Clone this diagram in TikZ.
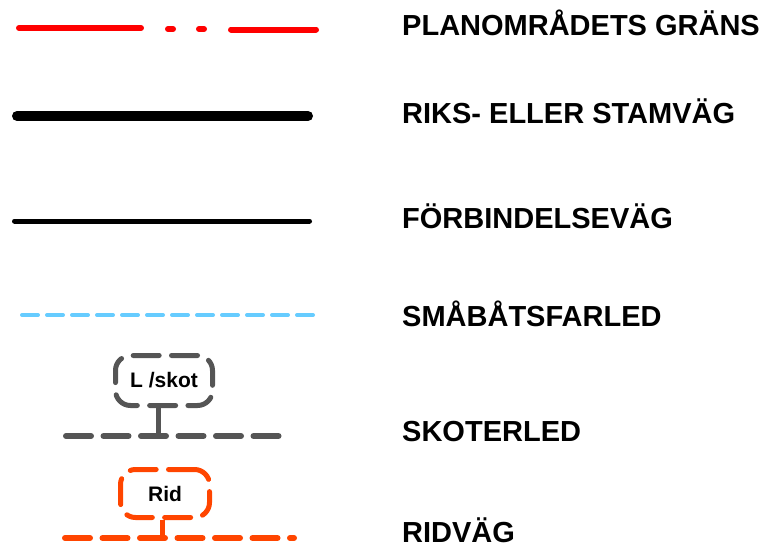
\documentclass[tikz,border=0pt]{standalone}
\usepackage{fontspec}
\setmainfont{Liberation Sans}
\definecolor{planred}{HTML}{FF0000}
\definecolor{boatblue}{HTML}{66CCFF}
\definecolor{skotgrey}{HTML}{555555}
\definecolor{ridorange}{HTML}{FF4500}
\tikzset{
  lbl/.style={anchor=base west, inner sep=0pt, font=\fontsize{29}{33}\selectfont\bfseries},
  boxlbl/.style={font=\fontsize{21}{25}\selectfont\bfseries, rounded corners=15pt, dash pattern=on 26pt off 12.3pt, line width=5pt, line cap=round, inner sep=0pt},
  trail/.style={line width=6pt, line cap=round, dash pattern=on 25pt off 12.5pt},
}
\begin{document}
\begin{tikzpicture}[x=1pt,y=-1pt]
\useasboundingbox (0,0) rectangle (760,554);
% PLANOMRADETS GRANS
\begin{scope}[planred, line width=6pt, line cap=round]
\draw (19,28) -- (141,28);
\draw (168,29) -- (173,29);
\draw (199,29) -- (204,29);
\draw (231,29.5) -- (316,29.5);
\end{scope}
\node[lbl] (t1) at (402,35) {PLANOMRÅDETS GRÄNS};
% RIKS
\draw[line width=10pt, line cap=round] (17,116) -- (308,116);
\node[lbl] (t2) at (402,123.5) {RIKS- ELLER STAMVÄG};
% FORBINDELSE
\draw[line width=5pt, line cap=round] (14.5,221) -- (309.5,221);
\node[lbl] (t3) at (402,228.5) {FÖRBINDELSEVÄG};
% SMABATSFARLED
\draw[boatblue, line width=4pt, line cap=round, dash pattern=on 16pt off 9pt] (22,315) -- (313,315);
\node[lbl] (t4) at (402,326.5) {SMÅBÅTSFARLED};
% SKOTERLED
\node[boxlbl, draw=skotgrey, minimum width=97pt, minimum height=50pt] (skot) at (164,380.5) {L /skot};
\coordinate (skotbar) at (158,436);
\draw[skotgrey, line width=5pt] (skot.south -| skotbar) -- (skotbar);
\coordinate (skotA) at (66,436);
\coordinate (skotB) at (279,436);
\draw[skotgrey, trail] (skotA) -- (skotB);
\node[lbl] (t5) at (402,441.5) {SKOTERLED};
% RIDVAG
\node[boxlbl, draw=ridorange, minimum width=89pt, minimum height=48pt] (rid) at (165,493.5) {Rid};
\coordinate (ridbar) at (162,538);
\draw[ridorange, line width=5pt] (rid.south -| ridbar) -- (ridbar);
\coordinate (ridA) at (65,538);
\coordinate (ridB) at (294,538);
\draw[ridorange, trail] (ridA) -- (ridB);
\node[lbl] (t6) at (402,542) {RIDVÄG};
\end{tikzpicture}
\end{document}
